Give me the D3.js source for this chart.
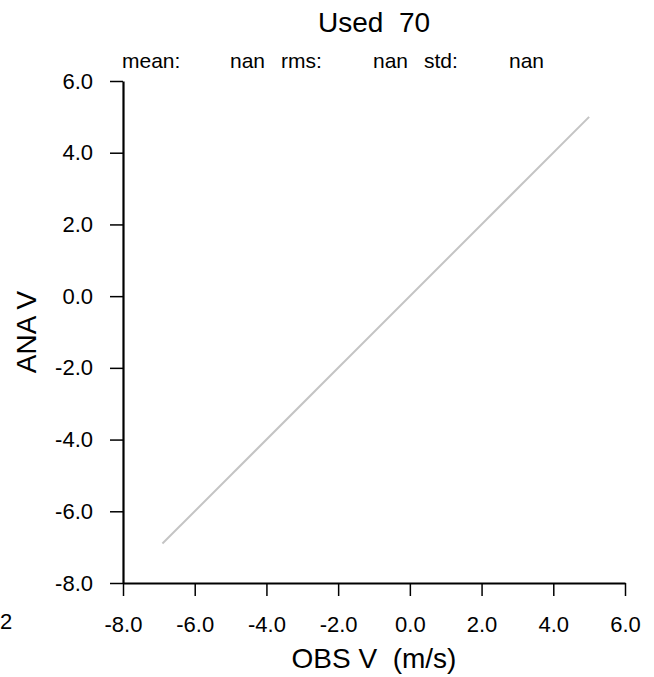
<!DOCTYPE html>
<html>
<head>
<meta charset="utf-8">
<script src="https://cdn.jsdelivr.net/npm/d3@7"></script>
<style>
  body { margin: 0; background: #fff; }
  svg { display: block; font-family: "Liberation Sans", Arial, Helvetica, sans-serif; }
  .axis path, .axis line { stroke: #000; }
  .axis text { font-family: "Liberation Sans", Arial, Helvetica, sans-serif; font-size: 22px; fill: #000; }
</style>
</head>
<body>
<div id="chart"></div>
<script>
const title = 'Used  70';
const statNames = ['mean:', 'rms:', 'std:'];
const statValues = ['nan', 'nan', 'nan'];
const xTicks = [-8, -6, -4, -2, 0, 2, 4, 6];
const yTicks = [-8, -6, -4, -2, 0, 2, 4, 6];
const lineObs = [-6.9, 5.0];
const lineAna = [-6.9, 5.0];
const xLabel = 'OBS V  (m/s)';
const yLabel = 'ANA V';

const width = 654;
const height = 677;
const margins = { top: 81, right: 29, bottom: 94, left: 123 };
const chartWidth = width - margins.left - margins.right;
const chartHeight = height - margins.top - margins.bottom;

const svg = d3.select('#chart')
  .append('svg')
  .attr('width', width)
  .attr('height', height);

const xScale = d3.scaleLinear().domain([-8, 6]).range([0, chartWidth]);
const yScale = d3.scaleLinear().domain([-8, 6]).range([chartHeight, 0]);

const plotG = svg.append('g')
  .attr('transform', `translate(${margins.left},${margins.top})`);

// diagonal line
const line = d3.line()
  .x(d => xScale(d[0]))
  .y(d => yScale(d[1]));

plotG.append('path')
  .datum(lineObs.map((v, i) => [v, lineAna[i]]))
  .attr('d', line)
  .attr('fill', 'none')
  .attr('stroke', '#c4c4c4')
  .attr('stroke-width', 2);

const fmt = d => d.toFixed(1);

const xAxisEl = plotG.append('g')
  .attr('class', 'axis')
  .attr('transform', `translate(0,${chartHeight})`)
  .call(d3.axisBottom(xScale).tickValues(xTicks).tickFormat(fmt).tickSize(13).tickSizeOuter(0).tickPadding(20));

const yAxisEl = plotG.append('g')
  .attr('class', 'axis')
  .call(d3.axisLeft(yScale).tickValues(yTicks).tickFormat(fmt).tickSize(13).tickSizeOuter(0).tickPadding(17));

[xAxisEl, yAxisEl].forEach(el => {
  el.select('.domain').attr('stroke-width', 2.2);
  el.selectAll('.tick line').attr('stroke-width', 1.5);
});

// title
svg.append('text')
  .attr('x', margins.left + chartWidth / 2)
  .attr('y', 32)
  .attr('text-anchor', 'middle')
  .style('font-size', '28px')
  .style('white-space', 'pre')
  .text(title);

// stats line
const statNameX = [122, 281, 424];
const statValueX = [265, 408, 544];
statNames.forEach((s, i) => {
  svg.append('text')
    .attr('x', statNameX[i])
    .attr('y', 68)
    .style('font-size', '21px')
    .text(s);
  svg.append('text')
    .attr('x', statValueX[i])
    .attr('y', 68)
    .attr('text-anchor', 'end')
    .style('font-size', '21px')
    .text(statValues[i]);
});

// axis labels
svg.append('text')
  .attr('x', margins.left + chartWidth / 2)
  .attr('y', 668)
  .attr('text-anchor', 'middle')
  .style('font-size', '28px')
  .style('white-space', 'pre')
  .text(xLabel);

svg.append('text')
  .attr('transform', `translate(36,${margins.top + chartHeight / 2}) rotate(-90)`)
  .attr('text-anchor', 'middle')
  .style('font-size', '28px')
  .text(yLabel);

// leftover label at the left edge
svg.append('text')
  .attr('x', 0)
  .attr('y', 629)
  .style('font-size', '22px')
  .text('2');
</script>
</body>
</html>
